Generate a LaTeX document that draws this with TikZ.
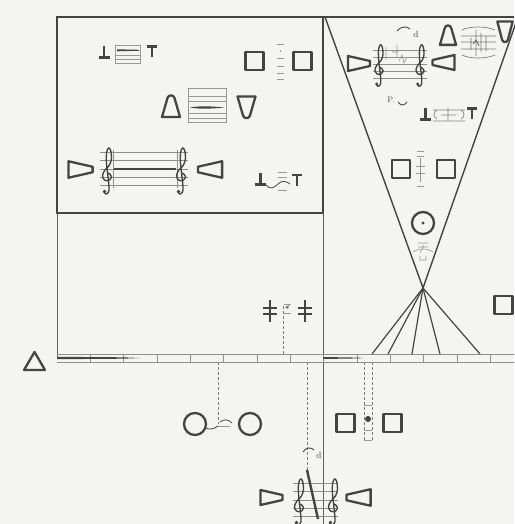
\documentclass[tikz,border=0pt]{standalone}
\usetikzlibrary{calc}
\definecolor{paper}{RGB}{244,244,242}
\definecolor{ink}{RGB}{68,68,68}
\tikzset{
  frame/.style={draw=ink, line width=1.9pt},
  rule/.style={draw=ink!85, line width=0.8pt},
  sym/.style={draw=ink, line width=2.3pt, line join=round},
  bar/.style={draw=ink, line width=2.1pt},
  staffline/.style={draw=ink!60, line width=0.55pt},
  faint/.style={draw=ink!55, line width=0.65pt},
  cue/.style={draw=ink!70, line width=0.6pt, densely dashed},
  fan/.style={draw=ink, line width=1.2pt},
  pics/wedge/.style={code={\draw[sym] (-11,-7.5) -- (11,-2.5) -- (11,2.5) -- (-11,7.5) -- cycle;}},
  pics/bell/.style={code={\draw[sym] (-9,11) -- (-3.5,-8) .. controls (-2.5,-11.5) and (2.5,-11.5) .. (3.5,-8) -- (9,11) -- cycle;}},
  pics/sqbox/.style={code={\draw[sym] (-9,-9) rectangle (9,9);}},
  pics/clef/.style={code={
    \draw[ink, line width=1.35pt, line cap=round] plot[smooth, tension=0.6] coordinates {
      (1.5,-4) (4.5,-0.5) (2,3.5) (-2.5,3) (-4.5,-1.5) (-2,-7) (2.5,-12) (4.5,-19)
      (3.5,-27) (1.5,-29) (-0.5,-24) (-0.5,-14) (1,0) (2,10) (1.5,15) (-1,17) (-3,15)};
    \fill[ink] (-2.5,14.5) circle (1.8);}},
  pics/perp/.style={code={\draw[bar] (0,-6) -- (0,5.5) (-5.5,5.5) -- (5.5,5.5);}},
  pics/tee/.style={code={\draw[bar] (-5,-5.5) -- (5,-5.5) (0,-5.5) -- (0,5);}},
  pics/plate/.style={code={\draw[bar] (0,-11) -- (0,11) (-7,-3) -- (7,-3) (-7,3) -- (7,3);}}
}

\begin{document}
\begin{tikzpicture}[x=1pt, y=-1pt]

\fill[paper] (0,0) rectangle (514,524);
\useasboundingbox (0,0) rectangle (514,524);

% frames
\draw[frame] (57,17) rectangle (323,213);
\draw[frame] (323,17) -- (514,17);
\draw[rule] (57,213) -- (57,358);
\draw[rule] (323,213) -- (323,524);

% cone
\coordinate (apex) at (423,288);
\draw[draw=ink, line width=1.4pt] (325,17) -- (apex) -- (518,17);

% time line
\draw[staffline, line width=0.65pt] (57,354) -- (514,354) (57,362) -- (514,362);
\foreach \k in {1,...,13}
  \draw[staffline, line width=0.8pt] ({57+33.35*\k},354) -- ({57+33.35*\k},362);
\fill[ink] (57,356.8) -- (123,357.3) -- (140,358) -- (123,358.7) -- (57,359.2) -- cycle;
\fill[ink] (323,357) -- (358,357.6) -- (363,358) -- (358,358.4) -- (323,359) -- cycle;
\draw[sym] (24,370) -- (34.5,352) -- (45,370) -- cycle;
\pic at (503.5,305) {sqbox};

% fan from the apex
\foreach \x [count=\i] in {372,388,412,440,480} {
  \coordinate (f\i) at (\x,354);
  \draw[fan] (apex) -- (f\i);
}

% box: upper left row
\pic at (104,52) {perp};
\draw[faint] (115,45) rectangle (140,63) (115,55) -- (140,55) (115,59) -- (140,59);
\fill[ink] (117,49.3) -- (139,49.8) -- (139,50.8) -- (117,51.3) -- cycle;
\pic at (152,52) {tee};

\pic at (254.5,61) {sqbox};
\pic at (302.5,61) {sqbox};
\foreach \y in {44,58,66,73,79}
  \draw[faint, line width=0.8pt] (277,\y) -- (284,\y);
\fill[ink!60] (280.5,51) circle (0.8);

% box: middle row
\pic at (171,106) {bell};
\draw[faint] (188,88) rectangle (226,122);
\foreach \y in {96,101,113,118}
  \draw[faint] (188,\y) -- (226,\y);
\fill[ink] (190,107.5) .. controls (200,105.5) and (215,106.5) .. (224,107.5)
  .. controls (215,108.5) and (200,109.5) .. (190,107.5);
\pic[yscale=-1] at (246.5,107.5) {bell};

% box: lower row
\pic[scale=1.1] at (80.5,169.5) {wedge};
\foreach \y in {152,160,169,177,185}
  \draw[staffline] (100,\y) -- (188,\y);
\draw[staffline] (113,150) -- (113,188) (177,150) -- (177,188);
\draw[draw=ink, line width=1.7pt] (114,169) -- (176,169);
\pic at (107,177) {clef};
\pic at (181,177) {clef};
\pic[rotate=180, scale=1.1] at (210,169.5) {wedge};

\pic at (260.5,179) {perp};
\draw[ink, line width=0.8pt] (266,185) .. controls (270,190) and (274,188) .. (278,184)
  .. controls (282,180) and (286,181) .. (290,184);
\foreach \y in {172,177,190}
  \draw[faint] (278,\y) -- (287,\y);
\pic at (297,180.5) {tee};

% cone: top row
\draw[ink, line width=0.9pt] (397,31) .. controls (401,26) and (407,26) .. (410,29);
\node[font=\small, text=ink, inner sep=0pt] (nd1) at (416,34) {d};
\pic at (359,63.5) {wedge};
\foreach \y in {50,57,64,71,78}
  \draw[staffline] (373,\y) -- (427,\y);
\pic[scale=0.9] at (379,71) {clef};
\pic[scale=0.9] at (420,71) {clef};
\draw[faint] (386,47) -- (386,60) (392,52) -- (398,52) (397,45) -- (397,58)
  (399,61) -- (402,55) -- (404,63) -- (407,57);
\pic[rotate=180] at (443.5,62.5) {wedge};

\pic[scale=0.9] at (448,35) {bell};
\draw[ink!70, line width=0.7pt] (462,30) .. controls (470,26) and (486,26) .. (495,30)
  (461,36) -- (496,36) (461,42) -- (496,42) (461,49) -- (496,49)
  (462,55) .. controls (470,59) and (486,59) .. (495,55)
  (476,30) -- (476,56) (481,33) -- (481,52);
\draw[ink!80, line width=0.9pt] (471,38) -- (471,50) (486,36) -- (486,51)
  (473,44) -- (476,40) -- (479,46);
\pic[yscale=-0.95, xscale=0.85] at (505,32) {bell};

% cone: middle rows
\node[font=\footnotesize, text=ink, inner sep=0pt] (np) at (391,100) {P.};
\draw[ink, line width=0.8pt] (398,102) .. controls (401,106) and (404,106) .. (407,102);

\pic at (425.5,114) {perp};
\draw[ink!65, line width=0.7pt] (433,110) -- (465,110) (433,121) -- (465,121)
  (437,110) .. controls (433,112) and (433,117) .. (437,119)
  (461,110) .. controls (465,112) and (465,117) .. (461,119)
  (448,108) -- (448,121) (441,115) -- (456,115);
\pic at (472,114) {tee};

\pic at (401,169) {sqbox};
\pic at (446,169) {sqbox};
\draw[faint, line width=0.8pt] (417,151) -- (424,151) (417,156) -- (424,156) (417,186) -- (424,186)
  (420.5,158) -- (420.5,182) (416,166) -- (425,166) (416,173) -- (425,173);

\draw[sym] (423,223) circle (11);
\fill[ink] (423,223) circle (1.6);
\draw[faint] (418,243) -- (428,243) (418,247) -- (428,247) (424,245) -- (420,253)
  (413,252) .. controls (418,248) and (428,248) .. (433,252)
  (420,256) -- (420,260) -- (426,260) -- (426,256);

% mid row
\pic at (270,311) {plate};
\pic at (305,311) {plate};
\draw[faint, line width=0.8pt] (284,304) -- (291,304) (284,313) -- (291,313);
\fill[ink!70] (285,307) -- (289,305) -- (288,309) -- cycle;
\draw[cue] (283.5,306) -- (283.5,354);

% lower cues
\draw[cue] (218,362) -- (218,424);
\draw[cue] (307,362) -- (307,470);
\draw[cue] (364,362) -- (364,440) (372,362) -- (372,440);
\draw[faint] (364,405) -- (372,405) (364,430) -- (372,430) (364,440) -- (372,440);
\fill[ink] (368,419) circle (3);

% lower row
\draw[sym] (195,424) circle (11);
\draw[sym] (250,424) circle (11);
\draw[ink, line width=0.8pt] (206,428) .. controls (210,430) and (214,429) .. (218,426)
  (220,422) .. controls (224,419) and (228,419) .. (232,423);
\draw[faint] (218,426) -- (230,426);

\pic at (345.5,423) {sqbox};
\pic at (392.5,423) {sqbox};

% bottom staff
\draw[ink, line width=0.9pt] (303,452) .. controls (306,447) and (311,447) .. (314,450);
\node[font=\small, text=ink, inner sep=0pt] (nd2) at (319,455) {d};
\pic at (271.5,497.5) {wedge};
\foreach \y in {483,491,500,508,516}
  \draw[staffline] (293,\y) -- (338,\y);
\pic at (299,508) {clef};
\pic at (333,508) {clef};
\draw[draw=ink, line width=2.4pt] (307,470) -- (318,519);
\pic[rotate=180, scale=1.1] at (358.5,497.5) {wedge};

\end{tikzpicture}
\end{document}
